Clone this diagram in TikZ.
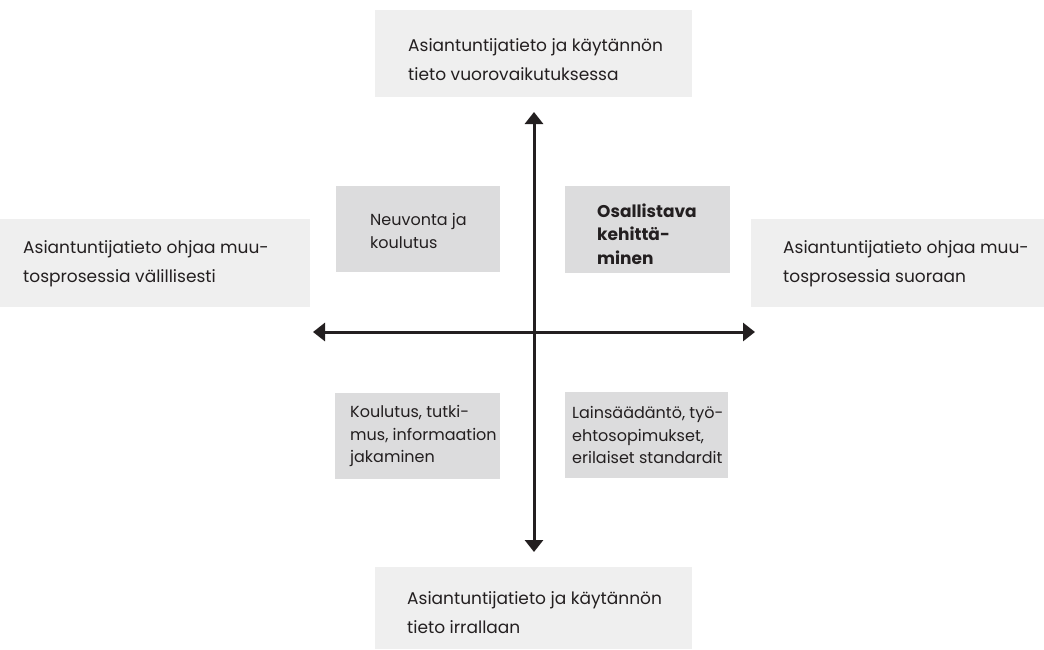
\documentclass[tikz,border=0pt]{standalone}
\usepackage{fontspec}
\setmainfont{Poppins}
\usetikzlibrary{arrows.meta}
\definecolor{outerbg}{HTML}{EFEFEF}
\definecolor{innerbg}{HTML}{DCDCDD}
\definecolor{ink}{HTML}{231F20}
\begin{document}
\begin{tikzpicture}[x=1pt,y=-1pt,
  outerbox/.style={fill=outerbg,draw=none,inner sep=0pt},
  innerbox/.style={fill=innerbg,draw=none,inner sep=0pt},
  outertext/.style={anchor=west,align=left,inner sep=0pt,text=ink,font=\fontsize{17}{29}\selectfont},
  innertext/.style={anchor=west,align=left,inner sep=0pt,text=ink,font=\fontsize{16}{22.5}\selectfont},
  axis/.style={draw=ink,line width=3pt,{Triangle[width=18pt,length=12pt]}-{Triangle[width=18pt,length=12pt]}}]
\useasboundingbox (0,0) rectangle (1044,649);
% outer boxes
\node[outerbox,minimum width=317pt,minimum height=87pt] (top) at (533.5,53.5) {};
\node[outerbox,minimum width=317pt,minimum height=82pt] (bottom) at (533.5,608) {};
\node[outerbox,minimum width=310pt,minimum height=88pt] (left) at (155,263) {};
\node[outerbox,minimum width=293pt,minimum height=88pt] (right) at (897.5,263) {};
% inner boxes
\node[innerbox,minimum width=164pt,minimum height=86pt] (tl) at (418,229) {};
\node[innerbox,minimum width=165pt,minimum height=87pt] (tr) at (647.5,229.5) {};
\node[innerbox,minimum width=165pt,minimum height=86pt] (bl) at (417.5,436) {};
\node[innerbox,minimum width=163pt,minimum height=86pt] (br) at (646.5,435) {};
% texts
\node[outertext] (toptext) at (408,60) {Asiantuntijatieto ja käytännön\\tieto vuorovaikutuksessa};
\node[outertext] (bottomtext) at (407,613) {Asiantuntijatieto ja käytännön\\tieto irrallaan};
\node[outertext] (lefttext) at (23,264) {Asiantuntijatieto ohjaa muu-\\tosprosessia välillisesti};
\node[outertext] (righttext) at (783,264) {Asiantuntijatieto ohjaa muu-\\tosprosessia suoraan};
\node[innertext] (tltext) at (370,231) {Neuvonta ja\\koulutus};
\node[innertext,font=\fontsize{17}{23.5}\selectfont\bfseries] (trtext) at (597,234) {Osallistava\\kehittä-\\minen};
\node[innertext] (bltext) at (350,436) {Koulutus, tutki-\\mus, informaation\\jakaminen};
\node[innertext] (brtext) at (572,435) {Lainsäädäntö, työ-\\ehtosopimukset,\\erilaiset standardit};
% axes
\coordinate (ytop) at (534,112);
\coordinate (ybot) at (534,552);
\coordinate (xleft) at (313,332);
\coordinate (xright) at (755,332);
\draw[axis] (ybot) -- (ytop);
\draw[axis] (xleft) -- (xright);
\end{tikzpicture}
\end{document}
